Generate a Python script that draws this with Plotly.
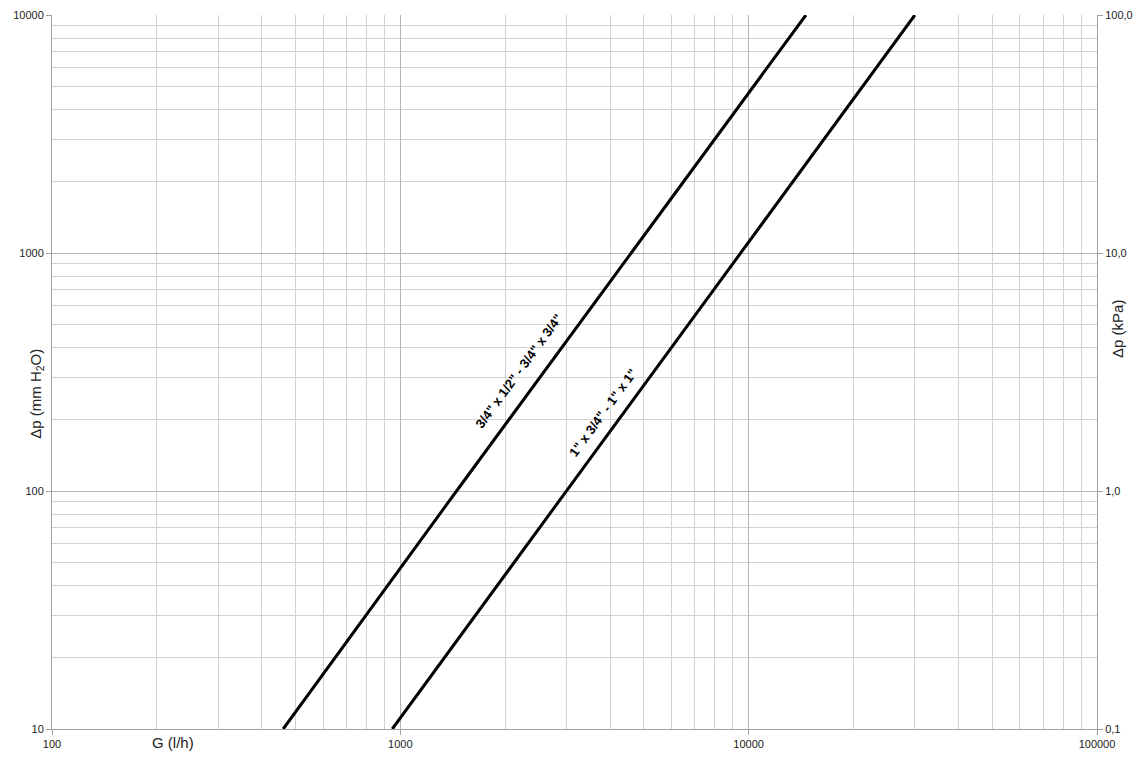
import plotly.graph_objects as go

# flow rate (l/h) vs pressure drop (mm H2O)
flow_34 = [461, 1450, 4600, 14600]
dp_34 = [10, 100, 1000, 10000]
flow_1 = [948, 3000, 9480, 30000]
dp_1 = [10, 100, 1000, 10000]

label_34 = '3/4" x 1/2" - 3/4" x 3/4"'
label_1 = '1" x 3/4" - 1" x 1"'

x_ticks = [100, 1000, 10000, 100000]
y_ticks = [10, 100, 1000, 10000]
kpa_ticks = [0.1, 1, 10, 100]
kpa_text = ["0,1", "1,0", "10,0", "100,0"]


def minor_vals(first, last):
    vals = []
    d = first
    while d < last:
        vals += [d * k for k in range(2, 10)]
        d *= 10
    return vals


fig = go.Figure()
fig.add_trace(go.Scatter(x=flow_34, y=dp_34, mode="lines",
                         line=dict(color="black", width=3), name=label_34))
fig.add_trace(go.Scatter(x=flow_1, y=dp_1, mode="lines",
                         line=dict(color="black", width=3), name=label_1))
# invisible trace so the kPa axis gets drawn
fig.add_trace(go.Scatter(x=flow_1, y=[v / 100 for v in dp_1], yaxis="y2",
                         mode="lines", line=dict(width=0), opacity=0,
                         hoverinfo="skip", showlegend=False))

font = dict(family="Liberation Sans, Arial, sans-serif", size=11, color="#222222")
axis_common = dict(type="log", showline=True, linecolor="#a0a0a0", linewidth=1,
                   gridcolor="#b4b4b4", gridwidth=1, ticks="outside",
                   ticklen=5, tickcolor="#a0a0a0", zeroline=False,
                   tickfont=font)

fig.update_layout(
    template="none",
    width=1145, height=765,
    margin=dict(l=52, r=48, t=15, b=36),
    plot_bgcolor="white", paper_bgcolor="white",
    showlegend=False,
    xaxis=dict(range=[2, 5], tickvals=x_ticks, ticktext=[str(v) for v in x_ticks],
               minor=dict(tickvals=minor_vals(100, 100000), showgrid=True,
                          gridcolor="#d2d2d2", ticks=""),
               **axis_common),
    yaxis=dict(range=[1, 4], tickvals=y_ticks, ticktext=[str(v) for v in y_ticks],
               minor=dict(tickvals=minor_vals(10, 10000), showgrid=True,
                          gridcolor="#d2d2d2", ticks=""),
               **axis_common),
    yaxis2=dict(type="log", range=[-1, 2], overlaying="y", side="right",
                tickvals=kpa_ticks, ticktext=kpa_text, showgrid=False,
                showline=True, linecolor="#a0a0a0", ticks="outside", ticklen=5,
                tickcolor="#a0a0a0", tickfont=font, zeroline=False),
)

title_font = dict(family="Liberation Sans, Arial, sans-serif", size=15, color="#222222")
fig.add_annotation(text="Δp (mm H<sub>2</sub>O)", xref="paper", yref="paper",
                   x=-0.026, y=0.47, textangle=-90, showarrow=False, font=title_font)
fig.add_annotation(text="Δp (kPa)", xref="paper", yref="paper",
                   x=1.029, y=0.56, textangle=-90, showarrow=False, font=title_font)
fig.add_annotation(text="G (l/h)", xref="paper", yref="paper",
                   x=0.094, y=-0.033, showarrow=False, font=title_font)

lab_font = dict(family="Liberation Sans, Arial, sans-serif", size=13, color="black")
fig.add_annotation(text="<b>" + label_34 + "</b>", x=3.339, y=2.504,
                   textangle=-53.8, showarrow=False, font=lab_font)
fig.add_annotation(text="<b>" + label_1 + "</b>", x=3.583, y=2.328,
                   textangle=-53.8, showarrow=False, font=lab_font)

fig.write_html("out.html", config={"displayModeBar": False},
               post_script="document.body.style.margin='0';")
